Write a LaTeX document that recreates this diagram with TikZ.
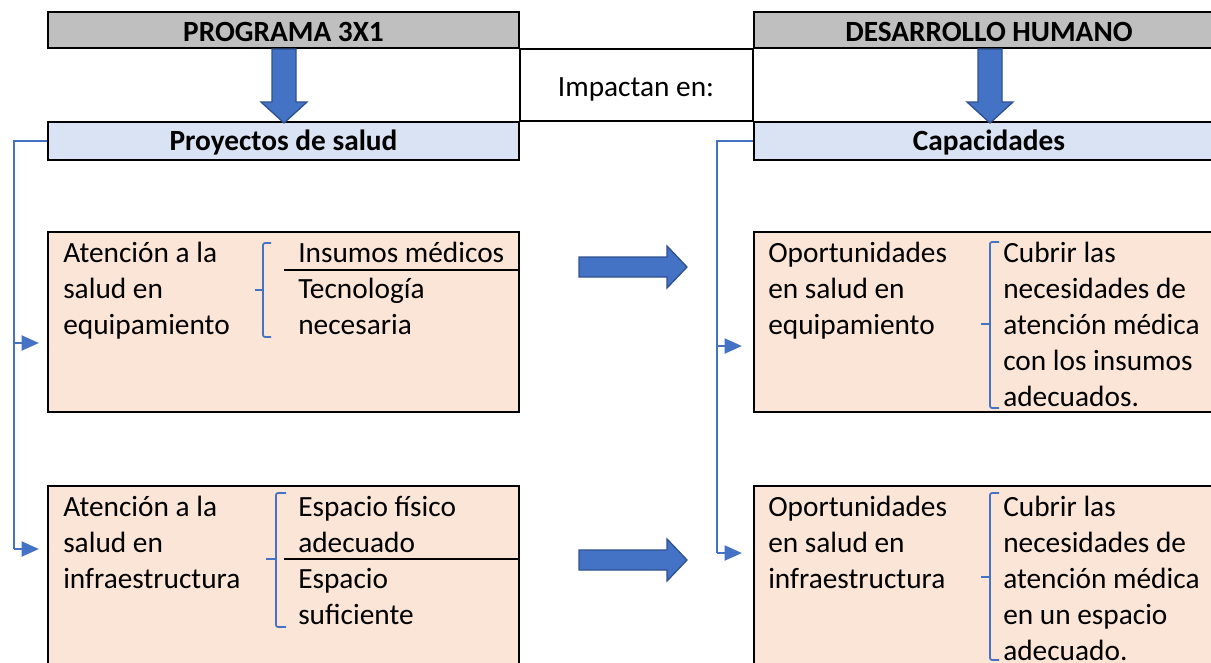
\documentclass[tikz,border=0pt]{standalone}
\usepackage{fontspec}
\setmainfont{Carlito}
\usetikzlibrary{arrows.meta}
\definecolor{hdrgray}{HTML}{BFBFBF}
\definecolor{lblue}{HTML}{DAE3F3}
\definecolor{peach}{HTML}{FBE5D6}
\definecolor{oblue}{HTML}{4472C4}
\definecolor{dblue}{HTML}{2F528F}
\begin{document}
\begin{tikzpicture}[x=0.75pt,y=-0.75pt,
  cell/.style={draw=black, line width=1.5pt, rectangle, inner sep=0pt},
  hdrA/.style={cell, fill=hdrgray, minimum height=27pt, text height=17.25pt, text depth=0pt, font=\fontsize{22}{27}\selectfont\bfseries},
  hdrB/.style={cell, fill=lblue, minimum height=28.5pt, text height=13.5pt, text depth=0pt, font=\fontsize{22}{27}\selectfont\bfseries},
  body/.style={cell, fill=peach},
  txt/.style={anchor=north west, inner sep=0pt, align=left, font=\fontsize{22}{27}\selectfont},
  tline/.style={black, line width=1.5pt},
  sep/.style={black, line width=1.3pt},
  blockarrow/.style={fill=oblue, draw=dblue, line width=1pt, line join=miter},
  conn/.style={oblue, line width=2.2pt},
  tip/.style={conn, -{Triangle[length=13pt, width=11pt]}},
  brk/.style={oblue, line width=1.3pt, rounded corners=1.5pt}
]
\useasboundingbox (0,0) rectangle (1211,662);

% header row
\node[hdrA, minimum width=353.25pt] (prog) at (283.5,30) {PROGRAMA 3X1};
\node[hdrA, minimum width=352.5pt] (desa) at (989,30) {DESARROLLO HUMANO};
\node[hdrB, minimum width=353.25pt] (proy) at (283.5,141) {Proyectos de salud};
\node[hdrB, minimum width=352.5pt] (capa) at (989,141) {Capacidades};

% table lines of the middle cell
\draw[tline] (prog.south east) -- (desa.south west);
\draw[tline] (proy.north east) -- (capa.north west);
\draw[tline] (prog.south east) -- (proy.north east);
\draw[tline] (desa.south west) -- (capa.north west);
\node[anchor=base, inner sep=0pt, font=\fontsize{22}{27}\selectfont] (imp) at (636,96) {Impactan en:};

% down block arrows
\draw[blockarrow] (272,49) -- (296,49) -- (296,102) -- (307,102) -- (284,123) -- (261,102) -- (272,102) -- cycle;
\draw[blockarrow] (978,49) -- (1002,49) -- (1002,102) -- (1013,102) -- (990,123) -- (967,102) -- (978,102) -- cycle;

% body boxes
\node[body, minimum width=353.25pt, minimum height=135pt] (A1) at (283.5,322) {};
\node[body, minimum width=352.5pt, minimum height=135pt] (B1) at (989,322) {};
\node[body, minimum width=353.25pt, minimum height=145.5pt] (A2) at (283.5,583) {};
\node[body, minimum width=352.5pt, minimum height=145.5pt] (B2) at (989,583) {};

% right block arrows
\draw[blockarrow] (579,257) -- (667,257) -- (667,246) -- (687,267) -- (667,288) -- (667,277) -- (579,277) -- cycle;
\draw[blockarrow] (579,550) -- (667,550) -- (667,539) -- (687,560) -- (667,581) -- (667,570) -- (579,570) -- cycle;

% left connector
\coordinate (Lc) at (14,141);
\coordinate (Lb1) at (14,343);
\coordinate (Lb2) at (14,549);
\coordinate (Le1) at (39,343);
\coordinate (Le2) at (39,549);
\draw[conn] (proy.west) -- (Lc) -- (Lb2);
\draw[tip] (Lb1) -- (Le1);
\draw[tip] (Lb2) -- (Le2);

% right connector
\coordinate (Rc) at (717,141);
\coordinate (Rb1) at (717,346);
\coordinate (Rb2) at (717,553);
\coordinate (Re1) at (742,346);
\coordinate (Re2) at (742,553);
\draw[conn] (capa.west) -- (Rc) -- (Rb2);
\draw[tip] (Rb1) -- (Re1);
\draw[tip] (Rb2) -- (Re2);

% brackets
\draw[brk] (271,243) -- (263,243) -- (263,337) -- (271,337);
\draw[brk] (263,290) -- (255,290);
\draw[brk] (286,493) -- (276,493) -- (276,627) -- (286,627);
\draw[brk] (276,559) -- (266,559);
\draw[brk] (999,242) -- (990,242) -- (990,408) -- (999,408);
\draw[brk] (990,324) -- (981,324);
\draw[brk] (999,493) -- (990,493) -- (990,660) -- (999,660);
\draw[brk] (990,577) -- (981,577);

% separators
\coordinate (s1) at (284,270);
\coordinate (s2) at (284,559);
\draw[sep] (s1) -- (s1 -| A1.east);
\draw[sep] (s2) -- (s2 -| A2.east);

% texts
\node[txt] (tA1) at (63,236.8) {\strut Atención a la\\salud en\\equipamiento};
\node[txt] (tA1a) at (298,236.8) {\strut Insumos médicos};
\node[txt] (tA1b) at (298,272.8) {\strut Tecnología\\necesaria};
\node[txt] (tA2) at (63,490.8) {\strut Atención a la\\salud en\\infraestructura};
\node[txt] (tA2a) at (298,490.8) {\strut Espacio físico\\adecuado};
\node[txt] (tA2b) at (298,562.8) {\strut Espacio\\suficiente};
\node[txt] (tB1) at (768,236.8) {\strut Oportunidades\\en salud en\\equipamiento};
\node[txt] (tB1a) at (1003,236.8) {\strut Cubrir las\\necesidades de\\atención médica\\con los insumos\\adecuados.};
\node[txt] (tB2) at (768,490.8) {\strut Oportunidades\\en salud en\\infraestructura};
\node[txt] (tB2a) at (1003,490.8) {\strut Cubrir las\\necesidades de\\atención médica\\en un espacio\\adecuado.};
\end{tikzpicture}
\end{document}
